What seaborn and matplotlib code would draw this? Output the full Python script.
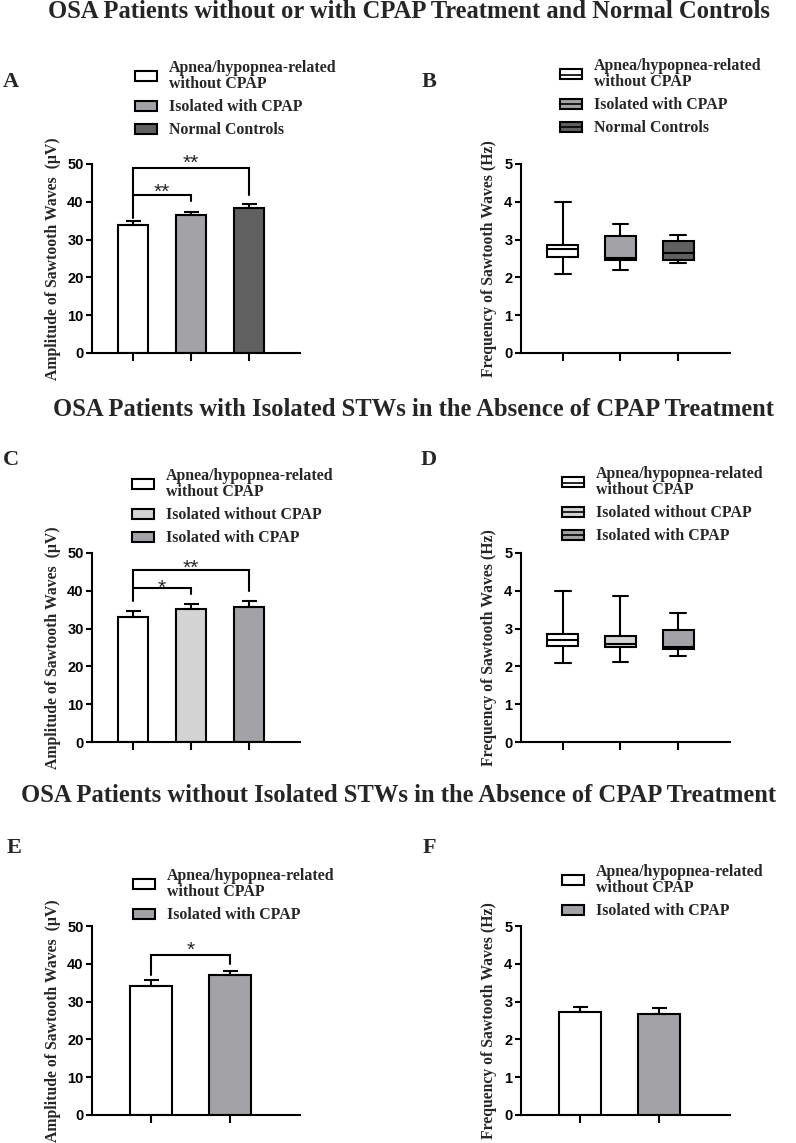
import numpy as np
import pandas as pd
import matplotlib
matplotlib.use("Agg")
import matplotlib.pyplot as plt
import seaborn as sns
from matplotlib.patches import Patch
from matplotlib.lines import Line2D
from matplotlib.legend_handler import HandlerTuple

# ---------------- data ----------------
titles = [
    "OSA Patients without or with CPAP Treatment and Normal Controls",
    "OSA Patients with Isolated STWs in the Absence of CPAP Treatment",
    "OSA Patients without Isolated STWs in the Absence of CPAP Treatment",
]
panel_letters = ["A", "B", "C", "D", "E", "F"]
amp_label = "Amplitude of Sawtooth Waves  (μV)"
freq_label = "Frequency of Sawtooth Waves (Hz)"

cats_AB = ["Apnea/hypopnea-related\nwithout CPAP", "Isolated with CPAP", "Normal Controls"]
cats_CD = ["Apnea/hypopnea-related\nwithout CPAP", "Isolated without CPAP", "Isolated with CPAP"]
cats_EF = ["Apnea/hypopnea-related\nwithout CPAP", "Isolated with CPAP"]

colors_AB = ["#ffffff", "#a3a2a7", "#606060"]
colors_CD = ["#ffffff", "#d3d3d3", "#a3a2a7"]
colors_EF = ["#ffffff", "#a3a2a7"]

# Panel A: amplitude mean and SEM (upper)
amp_A_mean = [33.9, 36.4, 38.4]
amp_A_err = [1.1, 1.0, 1.0]
# Panel B: frequency box summaries
freq_B_min = [2.08, 2.20, 2.37]
freq_B_q1 = [2.55, 2.45, 2.46]
freq_B_med = [2.75, 2.52, 2.65]
freq_B_q3 = [2.87, 3.10, 2.95]
freq_B_max = [4.00, 3.42, 3.13]
# Panel C
amp_C_mean = [33.0, 35.2, 35.7]
amp_C_err = [1.6, 1.4, 1.7]
# Panel D
freq_D_min = [2.08, 2.12, 2.28]
freq_D_q1 = [2.55, 2.52, 2.45]
freq_D_med = [2.70, 2.58, 2.51]
freq_D_q3 = [2.85, 2.80, 2.97]
freq_D_max = [4.00, 3.85, 3.42]
# Panel E
amp_E_mean = [34.2, 37.0]
amp_E_err = [1.5, 1.2]
# Panel F
freq_F_mean = [2.73, 2.68]
freq_F_err = [0.13, 0.15]

# significance brackets: (left idx, right idx, bar height, left leg end, right leg end, label, label y)
sig_A = [(0, 1, 41.8, 35.6, 40.3, "**", 44.5), (0, 2, 48.9, 41.8, 41.8, "**", 52.0)]
sig_C = [(0, 1, 40.7, 37.2, 39.2, "*", 42.6), (0, 2, 45.4, 40.7, 39.9, "**", 47.8)]
sig_E = [(0, 1, 42.4, 37.0, 39.9, "*", 45.4)]

amp_ticks = [0, 10, 20, 30, 40, 50]
freq_ticks = [0, 1, 2, 3, 4, 5]

# ---------------- style ----------------
sns.set_theme(style="ticks")
plt.rcParams["font.family"] = ["Liberation Serif", "DejaVu Serif"]
SERIF = "Liberation Serif"
SANS = "Liberation Sans"

W, H = 796, 1143
fig = plt.figure(figsize=(W / 100, H / 100), dpi=100)
fig.patch.set_facecolor("white")


def fx(px):
    return px / W


def fy(py):
    return 1 - py / H


def make_ax(left, top, right, bottom):
    return fig.add_axes([fx(left), fy(bottom), fx(right - left), (bottom - top) / H])


def style_axes(ax, yticks, xlim, n, ylabel, label_x):
    ax.set_ylim(yticks[0], yticks[-1])
    ax.set_yticks(yticks, labels=[str(v) for v in yticks], fontfamily=SANS,
                  fontweight="bold", fontsize=10.5)
    ax.set_xlim(*xlim)
    ax.set_xticks(range(n), labels=[""] * n)
    ax.set_xlabel("")
    ax.set_ylabel(ylabel, fontfamily=SERIF, fontweight="bold", fontsize=11.3)
    ax.yaxis.set_label_coords(label_x, 0.5)
    sns.despine(ax=ax)
    for s in ["left", "bottom"]:
        ax.spines[s].set_linewidth(1.5)
        ax.spines[s].set_color("black")
    ax.tick_params(axis="y", length=4.5, width=1.5, pad=1.5, colors="black")
    ax.tick_params(axis="x", length=6, width=1.5, colors="black")
    ax.set_facecolor("white")


def bar_panel(ax, cats, means, errs, colors):
    df = pd.DataFrame({"cat": cats, "val": means})
    sns.barplot(data=df, x="cat", y="val", hue="cat", order=cats, hue_order=cats,
                palette=dict(zip(cats, colors)), width=0.53, edgecolor="black",
                linewidth=1.5, saturation=1, legend=False, errorbar=None, ax=ax)
    ax.errorbar(np.arange(len(cats)), means, yerr=[np.zeros(len(cats)), errs],
                fmt="none", ecolor="black", elinewidth=1.5, capsize=5.4, capthick=1.5)


def box_panel(ax, cats, mins, q1s, meds, q3s, maxs, colors):
    rows = []
    for c, a, b, m, d, e in zip(cats, mins, q1s, meds, q3s, maxs):
        for v in (a, b, m, d, e):
            rows.append((c, v))
    df = pd.DataFrame(rows, columns=["cat", "val"])
    sns.boxplot(data=df, x="cat", y="val", hue="cat", order=cats, hue_order=cats,
                palette=dict(zip(cats, colors)), width=0.54, whis=np.inf,
                linecolor="black", linewidth=1.5, saturation=1, legend=False, ax=ax)


def brackets(ax, sigs):
    for l, r, h, ll, rl, lab, ly in sigs:
        ax.plot([l, l, r, r], [ll, h, h, rl], color="black", lw=1.5,
                clip_on=False, solid_joinstyle="miter")
        ax.text((l + r) / 2, ly - 3.4, lab, ha="center", va="baseline",
                fontsize=15, fontfamily=SANS, clip_on=False)


def legend(ax, cats, colors, left_px, top_px, box=False):
    if box:
        handles = [(Patch(facecolor=c, edgecolor="black", linewidth=1.5),
                    Line2D([], [], color="black", lw=1.2)) for c in colors]
        hm = {tuple: HandlerTuple(ndivide=1, pad=0)}
    else:
        handles = [Patch(facecolor=c, edgecolor="black", linewidth=1.5) for c in colors]
        hm = None
    leg = ax.legend(handles, cats, loc="upper left",
                    bbox_to_anchor=(fx(left_px), fy(top_px)),
                    bbox_transform=fig.transFigure, frameon=False, borderpad=0,
                    borderaxespad=0, handlelength=1.4, handleheight=0.6,
                    handletextpad=0.75, labelspacing=0.45, handler_map=hm,
                    prop=dict(family=SERIF, weight="bold", size=11.4))
    for t in leg.get_texts():
        t.set_linespacing(1.0)
    return leg


# ---------------- panels ----------------
axA = make_ax(92, 164, 300, 353)
bar_panel(axA, cats_AB, amp_A_mean, amp_A_err, colors_AB)
style_axes(axA, amp_ticks, (-0.71, 2.88), 3, amp_label, -0.149)
brackets(axA, sig_A)
legend(axA, cats_AB, colors_AB, 135, 60)

axB = make_ax(520.7, 164, 730, 353)
box_panel(axB, cats_AB, freq_B_min, freq_B_q1, freq_B_med, freq_B_q3, freq_B_max, colors_AB)
style_axes(axB, freq_ticks, (-0.73, 2.9), 3, freq_label, -0.113)
legend(axB, cats_AB, colors_AB, 560, 58, box=True)

axC = make_ax(92, 553, 300, 742)
bar_panel(axC, cats_CD, amp_C_mean, amp_C_err, colors_CD)
style_axes(axC, amp_ticks, (-0.71, 2.88), 3, amp_label, -0.149)
brackets(axC, sig_C)
legend(axC, cats_CD, colors_CD, 132, 468)

axD = make_ax(520.7, 553, 730, 742)
box_panel(axD, cats_CD, freq_D_min, freq_D_q1, freq_D_med, freq_D_q3, freq_D_max, colors_CD)
style_axes(axD, freq_ticks, (-0.73, 2.9), 3, freq_label, -0.113)
legend(axD, cats_CD, colors_CD, 562, 466, box=True)

axE = make_ax(92, 926, 300, 1115)
bar_panel(axE, cats_EF, amp_E_mean, amp_E_err, colors_EF)
style_axes(axE, amp_ticks, (-0.75, 1.89), 2, amp_label, -0.149)
brackets(axE, sig_E)
legend(axE, cats_EF, colors_EF, 133, 868)

axF = make_ax(520.7, 926, 730, 1115)
bar_panel(axF, cats_EF, freq_F_mean, freq_F_err, colors_EF)
style_axes(axF, freq_ticks, (-0.75, 1.9), 2, freq_label, -0.113)
legend(axF, cats_EF, colors_EF, 562, 864)

# ---------------- titles & letters ----------------
title_pos = [(409, 18), (413.5, 416.5), (399, 801.5)]
for t, (x, y) in zip(titles, title_pos):
    fig.text(fx(x), fy(y), t, ha="center", va="baseline", fontsize=17.7,
             fontfamily=SERIF, fontweight="bold")

letter_pos = [(3, 87), (422, 87), (3, 465), (421, 465), (7, 853), (423, 853)]
for L, (x, y) in zip(panel_letters, letter_pos):
    fig.text(fx(x), fy(y), L, ha="left", va="baseline", fontsize=16,
             fontfamily=SERIF, fontweight="bold")

fig.savefig("out.png", dpi=100, facecolor="white")
